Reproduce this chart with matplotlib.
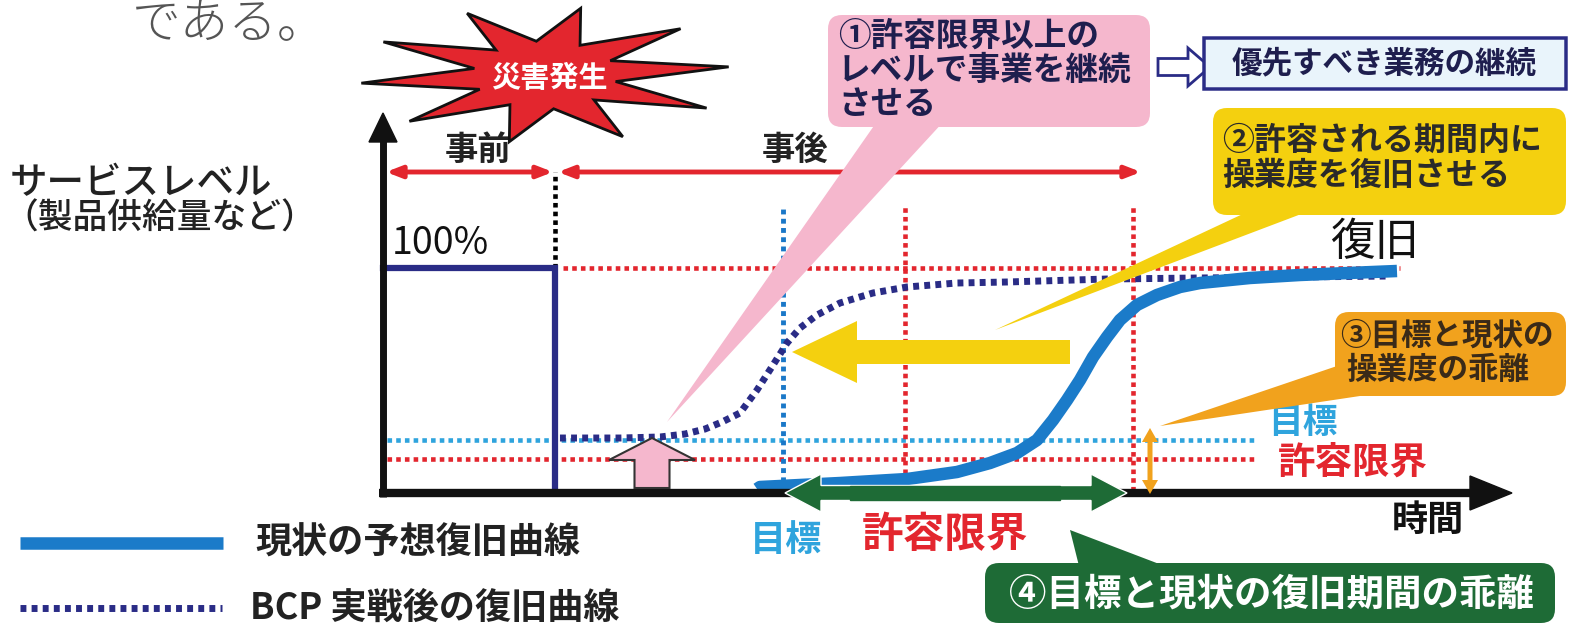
import numpy as np
import matplotlib
matplotlib.use('Agg')
import matplotlib.pyplot as plt
from matplotlib.patches import FancyBboxPatch, Polygon, FancyArrow
from matplotlib.transforms import Affine2D

plt.rcParams['font.family'] = ['Noto Sans CJK JP', 'DejaVu Sans']

# === DATA (time axis: 0..~110, service level in %) ===
# 現状の予想復旧曲線
genjo_t = [36.67, 36.96, 44.80, 51.37, 56.27, 59.51, 62.16, 64.12, 65.69, 67.06, 68.33,
           69.61, 70.98, 72.25, 73.92, 75.88, 78.14, 80.10, 85.00, 89.90, 99.41]
genjo_lv = [1.78, 2.67, 4.44, 6.22, 9.33, 13.33, 17.78, 23.56, 32.44, 41.33, 50.22,
            60.44, 69.33, 76.89, 83.56, 88.00, 91.56, 93.33, 95.56, 96.89, 98.67]
# BCP 実戦後の復旧曲線
bcp_t = [17.35, 23.24, 27.16, 29.61, 31.57, 33.24, 35.00, 36.67, 38.24, 39.61, 40.88,
         42.55, 44.80, 48.04, 51.37, 56.27, 61.18, 71.00, 80.10, 98.73]
bcp_lv = [24.44, 24.44, 24.89, 26.22, 28.44, 31.56, 35.56, 45.78, 56.89, 66.67, 73.33,
          79.11, 84.44, 88.89, 91.56, 93.33, 93.78, 95.11, 95.56, 96.44]
# 事前 (100%)
mae_t = [0, 16.9, 16.9]
mae_lv = [100, 100, 0]

LV_FULL = 100
LV_TARGET = 23.6      # 目標
LV_TOL = 15.1         # 許容限界
T_DISASTER = 16.9
T_TARGET = 39.2
T_MID = 51.2
T_TOL = 73.5

# === COLORS ===
RED = '#e3262e'
NAVY = '#2a2c86'
BLUE = '#1b7bc9'
LBLUE = '#2fa4dd'
PINK = '#f5b7cd'
YELLOW = '#f4d00f'
ORANGE = '#f1a21d'
GREEN = '#1e6b36'

fig = plt.figure(figsize=(15.76, 6.32), dpi=100)
ax = fig.add_axes([0, 0, 1, 1])
ax.set_xlim(0, 1576)
ax.set_ylim(632, 0)
ax.axis('off')

# chart data -> pixel
chart = Affine2D().scale(10.2, -2.25).translate(383, 493) + ax.transData

DOTS = (1.0, 0.9)
dot_red = dict(color=RED, lw=3.3, dashes=DOTS)

# reference lines
ax.plot([17.6, 99.7], [LV_FULL, LV_FULL], transform=chart, zorder=2, **dot_red)
ax.plot([0.4, 85.6], [LV_TOL, LV_TOL], transform=chart, zorder=2, **dot_red)
ax.plot([0.4, 85.6], [LV_TARGET, LV_TARGET], transform=chart, color=LBLUE, lw=3.3,
        dashes=DOTS, zorder=2)
for tv in [T_MID, T_TOL]:
    ax.plot([tv, tv], [1, 128], transform=chart, zorder=2, **dot_red)
ax.plot([T_TARGET, T_TARGET], [1, 128], transform=chart, color='#1a78c8', lw=3.5,
        dashes=DOTS, zorder=2)
ax.plot([T_DISASTER, T_DISASTER], [100, 142.7], transform=chart, color='black', lw=3.3,
        dashes=DOTS, zorder=2)

# 100% step line
ax.plot(mae_t, mae_lv, transform=chart, color=NAVY, lw=4.5, zorder=3,
        solid_joinstyle='miter')

# curves
ax.plot(bcp_t, bcp_lv, transform=chart, color=NAVY, lw=5, dashes=(0.85, 0.75), zorder=4)
ax.plot(genjo_t, genjo_lv, transform=chart, color=BLUE, lw=9, zorder=4,
        solid_capstyle='butt', solid_joinstyle='round')

# axes
ax.plot([383, 383], [497, 140], color='#111111', lw=5, zorder=5, solid_capstyle='butt')
ax.add_patch(Polygon([[369, 142], [397, 142], [383, 113]], closed=True, color='#111111', zorder=5))
ax.plot([379, 1480], [493, 493], color='#111111', lw=6, zorder=5, solid_capstyle='butt')
ax.add_patch(Polygon([[1470, 476], [1470, 510], [1512, 493]], closed=True, color='#111111', zorder=5))

# 事前 / 事後 arrows
for x0, x1 in [(386, 553), (558, 1141)]:
    ax.annotate('', xy=(x1, 172), xytext=(x0, 172),
                arrowprops=dict(arrowstyle='<|-|>,head_length=0.9,head_width=0.35',
                                color=RED, lw=3.5, shrinkA=0, shrinkB=0), zorder=5)
ax.text(478, 150, '事前', ha='center', va='center', fontsize=24, weight='bold', color='#222222')
ax.text(795, 150, '事後', ha='center', va='center', fontsize=24, weight='bold', color='#222222')
ax.text(392, 244, '100%', ha='left', va='center', fontsize=27, color='#111111')

# pink up arrow
ax.add_patch(FancyArrow(652, 488, 0, -50, width=35, head_width=86, head_length=22,
                        length_includes_head=True, fc=PINK, ec='#333333', lw=1.5, zorder=6))

# yellow big arrow
ax.add_patch(FancyArrow(1070, 352, -278, 0, width=24, head_width=62, head_length=65,
                        length_includes_head=True, fc=YELLOW, ec='none', zorder=6))

# orange vertical double arrow
for y0, y1 in [(461, 428), (461, 494)]:
    ax.add_patch(FancyArrow(1150, y0, 0, y1 - y0, width=5, head_width=16, head_length=14,
                            length_includes_head=True, fc=ORANGE, ec='none', zorder=6))

# green horizontal double arrow
for x0, x1 in [(955, 785), (955, 1127)]:
    ax.add_patch(FancyArrow(x0, 493, x1 - x0, 0, width=15, head_width=38, head_length=36,
                            length_includes_head=True, fc=GREEN, ec='white', lw=1, zorder=6))
ax.add_patch(Polygon([[850, 486], [1060, 486], [1060, 500], [850, 500]], closed=True,
                     color=GREEN, zorder=7))

# starburst
n = 10
ang = np.linspace(0, 2 * np.pi, 2 * n, endpoint=False) + 0.12
rx = np.where(np.arange(2 * n) % 2 == 0, 185, 72)
ry = np.where(np.arange(2 * n) % 2 == 0, 68, 34)
star = np.column_stack([545 + rx * np.cos(ang), 75 - ry * np.sin(ang)])
ax.add_patch(Polygon(star, closed=True, fc=RED, ec='#111111', lw=2, zorder=5))
ax.text(549, 78, '災害発生', ha='center', va='center', fontsize=21, weight='bold',
        color='white', zorder=6)

# gray text at top
ax.text(132, 24, 'である。', ha='left', va='center', fontsize=35, color='#555555',
        weight='light')

# y-axis label
ax.text(10, 183, 'サービスレベル', ha='left', va='center', fontsize=27, weight='medium',
        color='#222222')
ax.text(3, 219, '（製品供給量など）', ha='left', va='center', fontsize=25, weight='medium',
        color='#222222')


def callout(x0, y0, x1, y1, fc, wedge, ec='none', lw=0, r=14):
    if wedge is not None:
        ax.add_patch(Polygon(wedge, closed=True, fc=fc, ec='none', zorder=8))
    ax.add_patch(FancyBboxPatch((x0, y0), x1 - x0, y1 - y0,
                                boxstyle='round,pad=0,rounding_size=%d' % r,
                                fc=fc, ec=ec, lw=lw, zorder=8))


# ① pink
callout(828, 15, 1150, 127, PINK, [[878, 120], [945, 120], [667, 422]])
for i, s in enumerate(['①許容限界以上の', 'レベルで事業を継続', 'させる']):
    ax.text(838, 36 + 34 * i, s, ha='left', va='center', fontsize=23.5, weight='bold',
            color='#1e1e4e', zorder=9)

# hollow arrow and box
ax.add_patch(FancyArrow(1158, 67, 52, 0, width=17, head_width=38, head_length=22,
                        length_includes_head=True, fc='white', ec=NAVY, lw=2, zorder=8))
callout(1204, 38, 1566, 89, '#e9f4fb', None, ec=NAVY, lw=2.5, r=0)
ax.text(1384, 63, '優先すべき業務の継続', ha='center', va='center', fontsize=22,
        weight='bold', color='#1e1e4e', zorder=9)

# ② yellow
callout(1213, 108, 1566, 215, YELLOW, [[1262, 205], [1325, 205], [995, 330]])
for i, s in enumerate(['②許容される期間内に', '操業度を復旧させる']):
    ax.text(1222, 141 + 35 * i, s, ha='left', va='center', fontsize=23, weight='bold',
            color='#2a2a2a', zorder=9)

# ③ orange
callout(1335, 312, 1566, 396, ORANGE, [[1340, 365], [1400, 390], [1160, 426]])
for i, s in enumerate(['③目標と現状の', '操業度の乖離']):
    ax.text(1340 + 6 * i, 336 + 34 * i, s, ha='left', va='center', fontsize=22,
            weight='bold', color='#3a2a18', zorder=9)

# ④ green
callout(985, 563, 1555, 623, GREEN, [[1080, 570], [1175, 570], [1070, 530]])
ax.text(1272, 594, '④目標と現状の復旧期間の乖離', ha='center', va='center', fontsize=27,
        weight='bold', color='white', zorder=9)

# labels in chart
ax.text(1375, 242, '復旧', ha='center', va='center', fontsize=32, color='#111111', zorder=9)
ax.text(1268, 423, '目標', ha='left', va='center', fontsize=25, weight='bold', color=LBLUE)
ax.text(1278, 462, '許容限界', ha='left', va='center', fontsize=27, weight='bold', color=RED)
ax.text(1428, 520, '時間', ha='center', va='center', fontsize=26, weight='bold', color='#111111')
ax.text(750, 540, '目標', ha='left', va='center', fontsize=26, weight='bold', color=LBLUE)
ax.text(862, 535, '許容限界', ha='left', va='center', fontsize=30, weight='bold', color=RED)

# legend
ax.plot([20, 223], [543, 543], color=BLUE, lw=9, solid_capstyle='butt')
ax.text(255, 543, '現状の予想復旧曲線', ha='left', va='center', fontsize=26, weight='bold',
        color='#222222')
ax.plot([20, 222], [608, 608], color=NAVY, lw=5, dashes=(0.85, 0.75))
ax.text(250, 608, 'BCP 実戦後の復旧曲線', ha='left', va='center', fontsize=26, weight='bold',
        color='#222222')

fig.savefig('out.png', dpi=100)
